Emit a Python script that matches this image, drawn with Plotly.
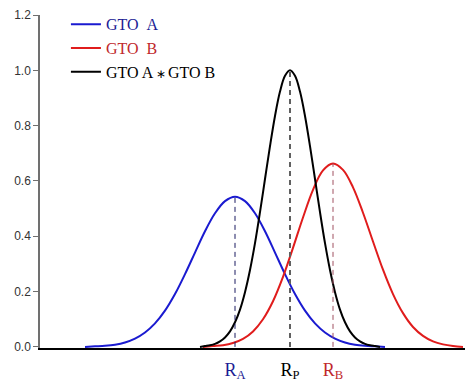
import plotly.graph_objects as go

# Position axis (arbitrary units)
x_a = [45, 55, 65, 75, 85, 95, 105, 115, 125, 135, 145, 155, 165, 175, 185, 195,
       205, 215, 225, 235, 245, 255, 265, 275, 285, 295, 305, 315, 325, 335, 345]
y_a = [0.000, 0.002, 0.004, 0.008, 0.016, 0.030, 0.052, 0.085, 0.131, 0.191, 0.263,
       0.341, 0.418, 0.483, 0.527, 0.543, 0.527, 0.483, 0.418, 0.341, 0.263, 0.191,
       0.131, 0.085, 0.052, 0.030, 0.016, 0.008, 0.004, 0.002, 0.000]

x_b = [163, 173, 183, 193, 203, 213, 223, 233, 243, 253, 263, 273, 283, 293,
       303, 313, 323, 333, 343, 353, 363, 373, 383, 393, 403, 413, 423]
y_b = [0.000, 0.003, 0.006, 0.014, 0.029, 0.056, 0.100, 0.165, 0.253, 0.358, 0.468,
       0.568, 0.638, 0.663, 0.640, 0.577, 0.485, 0.381, 0.279, 0.191, 0.122, 0.072,
       0.040, 0.020, 0.009, 0.003, 0.000]

x_p = [160, 165, 170, 175, 180, 185, 190, 195, 200, 205, 210, 215, 220, 225, 230,
       235, 240, 245, 250, 255, 260, 265, 270, 275, 280, 285, 290, 295, 300, 305,
       310, 315, 320, 325, 330, 335, 340]
y_p = [0.000, 0.003, 0.006, 0.011, 0.020, 0.034, 0.056, 0.089, 0.135, 0.198, 0.278,
       0.375, 0.487, 0.607, 0.726, 0.835, 0.923, 0.980, 1.000, 0.980, 0.923, 0.835,
       0.726, 0.607, 0.487, 0.375, 0.278, 0.198, 0.135, 0.089, 0.056, 0.034, 0.020,
       0.011, 0.006, 0.003, 0.000]

names = ["GTO\u00a0\u00a0A", "GTO\u00a0\u00a0B",
         "GTO A<span style='font-size:12px'>\u2009\u2217\u2009</span>GTO B"]
peak_labels = ["R<sub>A</sub>", "R<sub>P</sub>", "R<sub>B</sub>"]
y_ticks = [0.0, 0.2, 0.4, 0.6, 0.8, 1.0, 1.2]

curve_colors = ["#1a1ad0", "#e01c1c", "#000000"]
text_colors = ["#1c1c94", "#c0282c", "#000000"]
dash_colors = ["#1a1a60", "#606060", "#a05060"]
dash_widths = [1, 2, 1]

fig = go.Figure()
series = [(x_a, y_a), (x_b, y_b), (x_p, y_p)]
for (xs, ys), nm, c, tc in zip(series, names, curve_colors, text_colors):
    fig.add_trace(go.Scatter(
        x=xs, y=ys, mode="lines", line=dict(color=c, width=2, shape="spline"),
        name=f"<span style='color:{tc}'>{nm}</span>"))

# dashed lines at each peak (A, P, B order for labels)
peak_series = [(x_a, y_a), (x_p, y_p), (x_b, y_b)]
peak_x = []
for (xs, ys), dc, dw in zip(peak_series, dash_colors, dash_widths):
    i = ys.index(max(ys))
    peak_x.append(xs[i])
    fig.add_trace(go.Scatter(x=[xs[i], xs[i]], y=[0, ys[i]], mode="lines",
                             line=dict(color=dc, width=dw, dash="5px,4px"),
                             showlegend=False, hoverinfo="skip"))

label_colors = ["#1c1c94", "#000000", "#c0282c"]
ticktext = [f"<span style='color:{c}'>{t}</span>" for t, c in zip(peak_labels, label_colors)]

fig.update_layout(
    width=465, height=381,
    margin=dict(l=40, r=0, t=15, b=33),
    paper_bgcolor="white", plot_bgcolor="white",
    showlegend=True,
    legend=dict(x=0.061, y=1.023, xanchor="left", yanchor="top",
                font=dict(family="Liberation Serif", size=16, color="black"),
                bgcolor="rgba(0,0,0,0)", borderwidth=0, tracegroupgap=0,
                itemwidth=30),
    xaxis=dict(range=[0, 425], showgrid=False, zeroline=False,
               showline=True, linecolor="black", linewidth=2,
               tickmode="array", tickvals=peak_x, ticktext=ticktext, ticks="",
               ticklabelstandoff=4,
               tickfont=dict(family="Liberation Serif", size=18)),
    yaxis=dict(range=[-0.004, 1.2], showgrid=False, zeroline=False,
               showline=True, linecolor="#707070", linewidth=1.5,
               tickmode="array", tickvals=y_ticks,
               ticktext=[f"{v:.1f}" for v in y_ticks],
               ticks="outside", ticklen=5, tickcolor="#707070",
               tickfont=dict(family="Liberation Sans", size=12, color="#333333")),
)

fig.write_html("out.html")
